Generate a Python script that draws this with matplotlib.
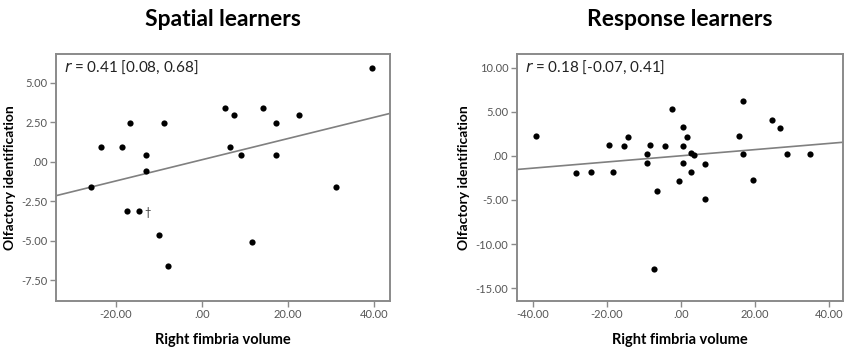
import numpy as np
import matplotlib
matplotlib.use("Agg")
import matplotlib.pyplot as plt

plt.rcParams['font.family'] = ['Lato', 'DejaVu Sans']

# Spatial learners
spatial_x = [39.7, 5.3, 7.6, 14.2, 17.3, 22.6, -16.8, -8.8, -23.5, -18.5, -12.9, -12.9,
             6.6, 9.2, 17.3, -25.8, 31.2, -17.5, -14.5, -9.9, 11.6, -7.8]
spatial_y = [5.96, 3.42, 2.94, 3.42, 2.43, 2.94, 2.43, 2.43, 0.93, 0.93, 0.40, -0.59,
             0.93, 0.40, 0.40, -1.60, -1.60, -3.10, -3.10, -4.63, -5.11, -6.63]
spatial_dagger = (-12.6, -3.23)

# Response learners
response_x = [-39.3, -28.4, -24.3, -19.4, -18.4, -15.5, -14.4, -9.3, -9.3, -8.3, -6.4,
              -7.3, -4.4, -2.4, -0.5, 0.6, 0.6, 0.6, 1.6, 2.6, 3.6, 2.6, 6.6, 6.6,
              15.7, 16.7, 16.7, 19.6, 24.6, 26.7, 28.7, 34.8]
response_y = [2.23, -1.93, -1.81, 1.21, -1.81, 1.10, 2.09, 0.19, -0.79, 1.21, -3.93,
              -12.85, 1.10, 5.26, -2.90, 3.22, 1.10, -0.79, 2.09, 0.27, 0.08, -1.81,
              -0.94, -4.94, 2.23, 6.24, 0.19, -2.75, 4.08, 3.10, 0.19, 0.19]

titles = ["Spatial learners", "Response learners"]
annotations = ["0.41 [0.08, 0.68]", "0.18 [-0.07, 0.41]"]
xlabel = "Right fimbria volume"
ylabel = "Olfactory identification"

left_xticks = [-20, 0, 20, 40]
left_yticks = [5, 2.5, 0, -2.5, -5, -7.5]
right_xticks = [-40, -20, 0, 20, 40]
right_yticks = [10, 5, 0, -5, -10, -15]


def fmt(v):
    s = f"{v:.2f}"
    if s.startswith("0."):
        s = s[1:]
    if s.startswith("-0."):
        s = "-" + s[2:]
    if s in (".00", "-.00"):
        s = ".00"
    return s


fig = plt.figure(figsize=(8.5, 3.47), dpi=100)
ax1 = fig.add_axes([0.0659, 0.1326, 0.3929, 0.7118])
ax2 = fig.add_axes([0.6079, 0.1326, 0.3842, 0.7118])

frame_col = "#8a8a8a"
tick_col = "#555555"

panels = [
    (ax1, spatial_x, spatial_y, (-33.9, 43.8), (-8.83, 6.83), left_xticks, left_yticks),
    (ax2, response_x, response_y, (-44.4, 43.9), (-16.44, 11.53), right_xticks, right_yticks),
]

for i, (ax, xs, ys, xl, yl, xt, yt) in enumerate(panels):
    xs = np.array(xs)
    ys = np.array(ys)
    ax.set_xlim(*xl)
    ax.set_ylim(*yl)
    b, a = np.polyfit(xs, ys, 1)
    lx = np.array(xl)
    ax.plot(lx, a + b * lx, color="#808080", lw=1.2, zorder=2)
    ax.scatter(xs, ys, s=20, color="black", zorder=3, linewidths=0)
    ax.set_xticks(xt)
    ax.set_yticks(yt)
    ax.set_xticklabels([fmt(v) for v in xt])
    ax.set_yticklabels([fmt(v) for v in yt])
    ax.tick_params(direction="out", length=4, width=1, color=frame_col,
                   labelsize=8, labelcolor=tick_col, pad=2)
    for sp in ax.spines.values():
        sp.set_color(frame_col)
        sp.set_linewidth(1.4)
    ax.set_xlabel(xlabel, fontsize=10.5, fontweight="bold", labelpad=9)
    ax.set_ylabel(ylabel, fontsize=10, fontweight="bold", labelpad=4)
    ax.text(0.025, 0.945, "$\\it{r}$ = " + annotations[i], transform=ax.transAxes,
            fontsize=11, ha="left", va="center", color="#222222")
    ax.set_title(titles[i], fontsize=16.5, fontweight="bold", pad=20)

ax1.text(spatial_dagger[0], spatial_dagger[1], "\u2020", fontsize=8, ha="center",
         va="center", color="#333333")

fig.savefig("out.png", dpi=100)
